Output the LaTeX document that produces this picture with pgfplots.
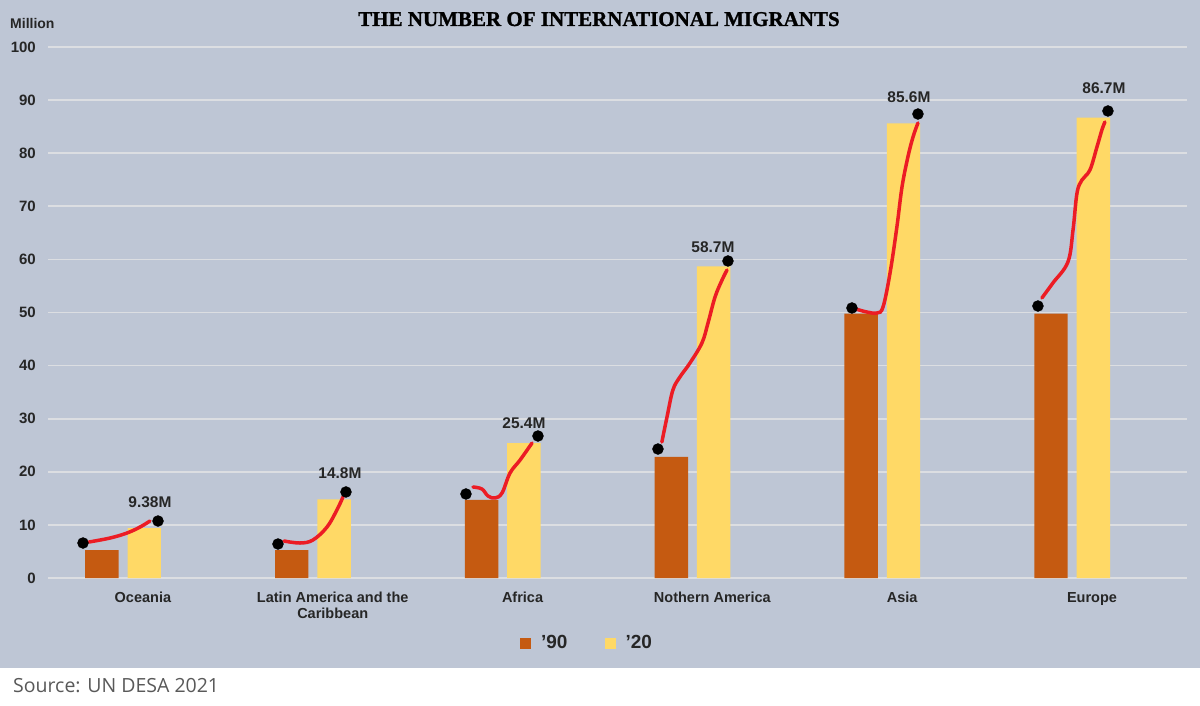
\documentclass[border=0pt]{standalone}
\usepackage{pgfplots}
\pgfplotsset{compat=1.18}
\usepackage{fontspec}
\setmainfont{Liberation Sans}
\newfontfamily\titlefont[FakeBold=1.2]{Liberation Serif}
\newfontfamily\srcfont{Open Sans}
\definecolor{bg}{HTML}{BEC6D5}
\definecolor{gridc}{HTML}{DCDEE2}
\definecolor{c90}{HTML}{C55A11}
\definecolor{c20}{HTML}{FFD966}
\definecolor{redl}{HTML}{EC1C24}
\definecolor{txt}{HTML}{262626}
\definecolor{srcgray}{HTML}{595959}
\begin{document}
\begin{tikzpicture}[x=1pt,y=1pt]
\fill[white] (0,0) rectangle (1200,705);
\fill[bg] (0,37) rectangle (1200,705);
\node[font=\titlefont\bfseries\fontsize{21}{21}\selectfont, anchor=base, inner sep=0] at (599,679) {THE NUMBER OF INTERNATIONAL MIGRANTS};
\node[font=\bfseries\fontsize{14}{14}\selectfont, text=txt, anchor=base west, inner sep=0] at (10,676) {Million};
\node[font=\srcfont\fontsize{19.5}{19.5}\selectfont, text=srcgray, anchor=base west, inner sep=0] at (13,13) {Source: UN DESA 2021};
\begin{axis}[
  at={(48pt,127pt)}, anchor=south west,
  scale only axis, width=1139pt, height=531pt,
  xmin=-0.5, xmax=5.5, ymin=0, ymax=100,
  axis line style={draw=none},
  major tick length=0pt,
  ymajorgrids, grid style={gridc, line width=1.6pt},
  ytick={0,10,...,100},
  xtick={0,1,2,3,4,5},
  xticklabels={Oceania,{Latin America and the\\Caribbean},Africa,Nothern America,Asia,Europe},
  /pgf/number format/assume math mode=true,
  yticklabel style={font=\bfseries\fontsize{15}{15}\selectfont, text=txt, anchor=east, inner sep=0pt, xshift=-12pt},
  xticklabel style={font=\bfseries\fontsize{14.5}{16}\selectfont, text=txt, anchor=north, inner sep=0pt, yshift=-14pt, align=center},
  legend columns=2,
  legend style={draw=none, fill=none, at={(0.4724,-0.1224)}, anchor=center,
    font=\bfseries\fontsize{19}{19}\selectfont, text=txt,
    nodes={inner sep=0pt},
    /tikz/every odd column/.append style={column sep=10pt},
    /tikz/every even column/.append style={column sep=37pt}},
  legend image code/.code={\fill[#1] (0pt,-5.5pt) rectangle (11pt,5.5pt);},
]
\addplot[ybar, bar shift=0pt, bar width=0.176, fill=c90, draw=none]
  coordinates {(-0.216,5.27) (0.784,5.27) (1.784,14.7) (2.784,22.8) (3.784,49.8) (4.784,49.8)};
\addlegendentry{’90}
\addplot[ybar, bar shift=0pt, bar width=0.176, fill=c20, draw=none]
  coordinates {(0.007,9.38) (1.007,14.8) (2.007,25.4) (3.007,58.7) (4.007,85.6) (5.007,86.7)};
\addlegendentry{’20}
% red hand-drawn lines
\addplot[redl, line width=3.5pt, smooth, tension=0.6, line cap=round, forget plot]
  coordinates {(-0.284,6.78) (-0.173,7.53) (-0.084,8.47) (-0.015,9.60) (0.037,10.73)};
\addplot[redl, line width=3.5pt, smooth, tension=0.6, line cap=round, forget plot]
  coordinates {(0.743,6.97) (0.828,6.59) (0.896,7.16) (0.970,9.60) (1.022,12.81) (1.054,15.25)};
\addplot[redl, line width=3.5pt, smooth, tension=0.6, line cap=round, forget plot]
  coordinates {(1.739,17.14) (1.786,16.76) (1.818,15.44) (1.855,15.07) (1.892,16.01) (1.934,19.77) (1.987,22.22) (2.050,25.42)};
\addplot[redl, line width=3.5pt, smooth, tension=0.6, line cap=round, forget plot]
  coordinates {(2.734,25.61) (2.761,30.32) (2.792,35.40) (2.829,37.85) (2.882,40.49) (2.945,44.26) (2.977,48.02) (3.014,52.92) (3.051,56.12) (3.077,58.00)};
\addplot[redl, line width=3.5pt, smooth, tension=0.6, line cap=round, forget plot]
  coordinates {(3.756,50.66) (3.814,50.09) (3.867,49.91) (3.899,51.04) (3.936,57.44) (3.972,66.10) (3.999,73.63) (4.030,79.28) (4.057,83.05) (4.083,85.69)};
\addplot[redl, line width=3.5pt, smooth, tension=0.6, line cap=round, forget plot]
  coordinates {(4.736,52.73) (4.794,55.56) (4.873,59.51) (4.900,65.54) (4.921,72.50) (4.947,74.95) (4.989,76.84) (5.026,81.17) (5.052,84.37) (5.068,85.88)};
% black dots
\addplot[only marks, mark=*, mark size=5.5pt, black, forget plot]
  coordinates {(-0.3156,6.59) (0.0795,10.73) (0.7116,6.40) (1.0698,16.20) (1.702,15.82) (2.0813,26.74)
               (2.7134,24.29) (3.0822,59.70) (3.7354,50.85) (4.0831,87.38) (4.7152,51.22) (5.0840,87.95)};
% data labels
\begin{scope}[every node/.style={font=\bfseries\fontsize{15.5}{15.5}\selectfont, text=txt, inner sep=0pt, anchor=center}]
\node at (axis cs:0.0373,14.31) {9.38M};
\node at (axis cs:1.038,19.77) {14.8M};
\node at (axis cs:2.0075,29.19) {25.4M};
\node at (axis cs:3.003,62.34) {58.7M};
\node at (axis cs:4.0357,90.58) {85.6M};
\node at (axis cs:5.063,92.28) {86.7M};
\end{scope}
\end{axis}
\end{tikzpicture}
\end{document}
